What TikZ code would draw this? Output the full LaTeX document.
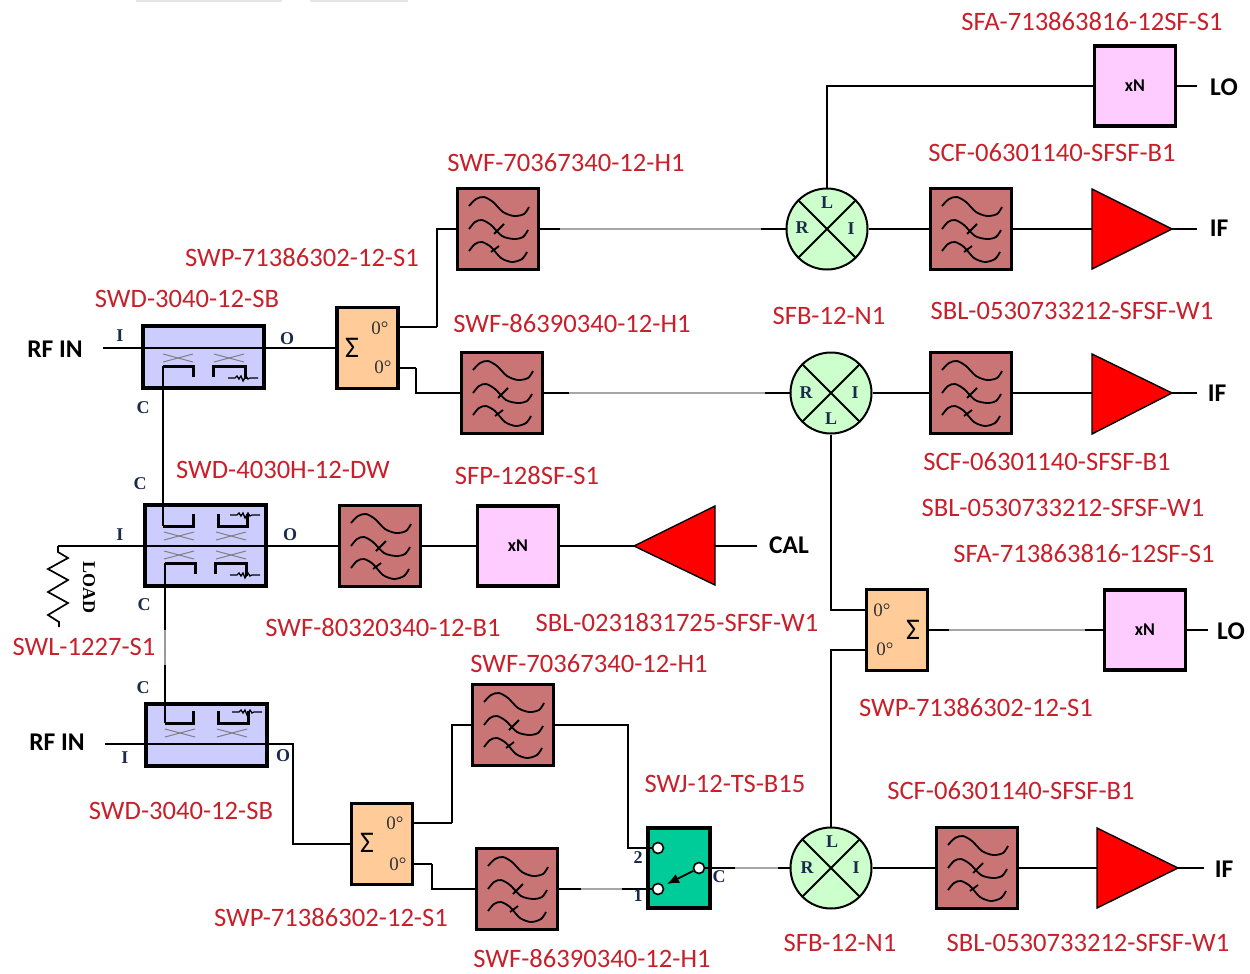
\documentclass[tikz,border=0pt]{standalone}
\usepackage{fontspec}
\setmainfont{Carlito}
\newfontfamily\serifb{Liberation Serif}[Scale=1]
\usetikzlibrary{arrows.meta}
\definecolor{lblred}{HTML}{C8202A}
\definecolor{filtc}{HTML}{C97575}
\definecolor{coupc}{HTML}{CCCCFF}
\definecolor{sigc}{HTML}{FFCC99}
\definecolor{mixc}{HTML}{CCFFCC}
\definecolor{multc}{HTML}{FFCCFF}
\definecolor{swc}{HTML}{00CC99}
\definecolor{portc}{HTML}{1A2A4A}
\tikzset{
  x=1pt,y=-1pt,
  lbl/.style={text=lblred,font=\fontsize{26.6}{26.6}\selectfont,inner sep=0pt},
  blk/.style={text=black,font=\fontsize{25.5}{25.5}\selectfont\bfseries,inner sep=0pt},
  port/.style={text=portc,font=\serifb\fontsize{18}{18}\selectfont\bfseries,inner sep=0pt},
  deg/.style={text=black!80,font=\serifb\fontsize{19}{19}\selectfont,inner sep=0pt},
  box/.style={draw=black,line width=3.2pt,inner sep=0pt,minimum width=#1},
  filtbox/.style={box=81pt,minimum height=81pt,fill=filtc},
  multbox/.style={box=81pt,minimum height=80pt,fill=multc,font=\fontsize{18}{18}\selectfont\bfseries},
  sigbox/.style={box=61pt,minimum height=81pt,fill=sigc},
  coupbox/.style={box=121pt,fill=coupc},
  mixbox/.style={circle,draw=black,line width=2pt,fill=mixc,minimum size=81pt,inner sep=0pt},
  ampbox/.style={draw=black,line width=1.4pt,fill=red},
  wire/.style={draw=black,line width=2.9pt},
  thin wire/.style={draw=black,line width=1.5pt},
  faded/.style={draw=black!35,line width=2pt},
  inner/.style={draw=black,line width=3pt},
  crossm/.style={draw=black!50,line width=1pt},
  curve/.style={draw=black,line width=1.8pt},
  jack/.style={circle,draw=black,line width=1.6pt,fill=white,minimum size=11pt,inner sep=0pt}
}
\newcommand{\filticon}[2]{%
  \begin{scope}[shift={(#1,#2)}]
    \draw[curve] plot[smooth] coordinates {(-29,-23) (-22,-30) (-14,-32) (-5,-27) (5,-17) (16,-13) (26,-15) (31,-22)};
    \draw[curve] plot[smooth] coordinates {(-29,0) (-23,-7) (-16,-9) (-7,-4) (4,7) (16,10) (25,8) (30,1)};
    \draw[curve] plot[smooth] coordinates {(-29,22) (-23,15) (-16,13) (-7,18) (3,29) (14,33) (24,30) (29,23)};
    \draw[curve] (-4,5) -- (6,-5);
    \draw[curve] (-7,23) -- (1,17);
  \end{scope}}
\newcommand{\xcross}[2]{%
  \draw[crossm] (#1-15,#2-4) -- (#1+15,#2+4);
  \draw[crossm] (#1-15,#2+4) -- (#1+15,#2-4);}
\newcommand{\resist}[2]{%
  \draw[draw=black,line width=1.3pt] (#1,#2) -- (#1+7,#2) -- (#1+9,#2-2) -- (#1+11,#2+1) -- (#1+13,#2-2) -- (#1+15,#2+3) -- (#1+18,#2-2) -- (#1+20,#2+1) -- (#1+22,#2) -- (#1+30,#2);}
\newcommand{\mixlines}[1]{%
  \draw[line width=1.8pt] (#1.45) -- (#1.225);
  \draw[line width=1.8pt] (#1.135) -- (#1.315);}
\begin{document}
\begin{tikzpicture}
\useasboundingbox (0,0) rectangle (1250,974);
\fill[black!10] (136,0) rectangle (282,2);
\fill[black!10] (310,0) rectangle (408,2);

% ---- free ends
\coordinate (rf1) at (103,348);
\coordinate (rf2) at (105,744);
\coordinate (lo1) at (1197,86);
\coordinate (if1) at (1197,229);
\coordinate (if2) at (1197,393);
\coordinate (cal) at (757,546);
\coordinate (lo2) at (1208,630);
\coordinate (if3) at (1204,868);
\coordinate (loadtop) at (58,546);

% ---- blocks
\node[coupbox,minimum height=62pt,fill=coupc] (c1) at (203.5,357) {};
\node[coupbox,minimum height=81pt] (c2) at (205.5,545.5) {};
\node[coupbox,minimum height=62pt] (c3) at (206.5,735) {};
\node[sigbox] (s1) at (367.5,348) {};
\node[sigbox] (s2) at (897,630) {};
\node[sigbox] (s3) at (382,844) {};
\foreach \n/\x/\y in {f1/498/229,f2/502/393,f3/971/229,f4/971/393,f5/380/546,f6/513/725,f7/517/889,f8/977/868}{
  \node[filtbox] (\n) at (\x,\y) {};
  \filticon{\x}{\y}
}
\node[multbox] (m1) at (1135,86) {xN};
\node[multbox] (m2) at (518,546) {xN};
\node[multbox] (m3) at (1145,630) {xN};
\node[mixbox] (x1) at (827,229) {};
\node[mixbox] (x2) at (831,393) {};
\node[mixbox] (x3) at (831,868) {};
\mixlines{x1}\mixlines{x2}\mixlines{x3}
\node[box=62pt,minimum height=80pt,fill=swc] (sw) at (679,868) {};
\path[ampbox] (1092,189) -- (1172,229) coordinate (a1e) -- (1092,269) -- cycle;
\coordinate (a1m) at (1092,229);
\path[ampbox] (1092,354) -- (1172,393) coordinate (a2e) -- (1092,434) -- cycle;
\coordinate (a2m) at (1092,393);
\path[ampbox] (1097,828) -- (1178,868) coordinate (a3e) -- (1097,908) -- cycle;
\coordinate (a3m) at (1097,868);
\path[ampbox] (715,506) -- (634,546) coordinate (a4w) -- (715,585) -- cycle;
\coordinate (a4m) at (715,546);

% ---- named ports
\coordinate (s1a) at (398,327); \coordinate (s1b) at (398,368);
\coordinate (s2a) at (867,610); \coordinate (s2b) at (867,650);
\coordinate (s3a) at (412,823); \coordinate (s3b) at (412,864);
\coordinate (c1w) at (143,348); \coordinate (c1e) at (264,348);
\coordinate (c2w) at (145,546); \coordinate (c2e) at (266,546);
\coordinate (c3w) at (146,744); \coordinate (c3e) at (267,744);
\node[jack] (j2) at (658,848) {};
\node[jack] (j1) at (658,889) {};
\node[jack] (jc) at (699,868) {};

% ---- through lines
\draw[thin wire] (c1e) -- (s1.west);
\draw[wire] (rf1) -- (c1w) -- (c1e) -- (290,348);
\draw[wire] (315,348) -- (s1.west);
\draw[thin wire] (c2e) -- (f5.west);
\draw[wire] (c2w) -- (c2e) -- (292,546);
\draw[wire] (320,546) -- (f5.west);
\draw[thin wire] (loadtop) -- (102,546);
\draw[wire] (102,546) -- (c2w);
\draw[wire] (rf2) -- (c3w) -- (c3e);
\draw[thin wire] (c3e) -- (293,744) -- (293,844) -- (s3.west);
\draw[wire] (330,844) -- (s3.west);
% ---- top branch
\draw[wire] (s1a) -- (437,327);
\draw[thin wire] (437,327) -- (437,229) -- (f1.west);
\draw[wire] (s1b) -- (416,368);
\draw[thin wire] (416,368) -- (416,393) -- (f2.west);
\draw[wire] (440,393) -- (f2.west);
\draw[wire] (f1.east) -- (x1.west);
\draw[faded,shorten <=20pt,shorten >=25pt] (f1.east) -- (x1.west);
\draw[wire] (f2.east) -- (x2.west);
\draw[faded,shorten <=25pt,shorten >=25pt] (f2.east) -- (x2.west);
\draw[wire] (x1.east) -- (f3.west);
\draw[wire] (x2.east) -- (f4.west);
\draw[wire] (f3.east) -- (a1m);
\draw[wire] (f4.east) -- (a2m);
\draw[wire] (a1e) -- (if1);
\draw[wire] (a2e) -- (if2);
\draw[wire] (x1.north) -- (827,170);
\draw[thin wire] (827,170) -- (827,86) -- (1075,86);
\draw[wire] (1075,86) -- (m1.west);
\draw[wire] (m1.east) -- (lo1);
% ---- middle
\draw[wire] (f5.east) -- (m2.west);
\draw[wire] (m2.east) -- (a4w);
\draw[wire] (a4m) -- (cal);
\draw[wire] (x2.south) -- (831,470);
\draw[thin wire] (831,470) -- (831,610) -- (s2a);
\draw[wire] (845,610) -- (s2a);
\draw[wire] (s2b) -- (845,650);
\draw[thin wire] (845,650) -- (831,650) -- (831,800);
\draw[wire] (831,800) -- (x3.north);
\draw[wire] (s2.east) -- (m3.west);
\draw[faded,shorten <=20pt,shorten >=18pt] (s2.east) -- (m3.west);
\draw[wire] (m3.east) -- (lo2);
% ---- bottom
\draw[wire] (s3a) -- (452,823);
\draw[thin wire] (452,823) -- (452,725) -- (f6.west);
\draw[wire] (s3b) -- (432,864);
\draw[thin wire] (432,864) -- (432,889) -- (f7.west);
\draw[wire] (455,889) -- (f7.west);
\draw[thin wire] (f6.east) -- (628,725) -- (628,848) -- (j2.west);
\draw[wire] (f7.east) -- (j1.west);
\draw[faded,shorten <=22pt,shorten >=30pt] (f7.east) -- (j1.west);
\draw[wire] (jc.east) -- (x3.west);
\draw[faded,shorten <=30pt,shorten >=12pt] (jc.east) -- (x3.west);
\draw[wire] (x3.east) -- (f8.west);
\draw[wire] (f8.east) -- (a3m);
\draw[wire] (a3e) -- (if3);
% ---- coupled ports
\draw[wire] (163,366) -- (163,430);
\draw[thin wire] (163,430) -- (163,470);
\draw[wire] (163,470) -- (163,526);
\draw[wire] (165,563) -- (165,630);
\draw[draw=black!40,line width=2pt] (165,630) -- (165,665);
\draw[wire] (165,665) -- (165,723);
% ---- switch arm
\draw[line width=1.8pt,-{Latex[length=12pt,width=10pt]}] (jc) -- (667,884);
% ---- load
\draw[line width=1.7pt] (loadtop) -- (58,552) -- (68,558) -- (48,569) -- (68,580) -- (48,592) -- (68,603) -- (48,615) -- (59,622) -- (59,627);
% ---- coupler innards
\xcross{178}{358}\xcross{229}{358}
\draw[inner] (163,366) -- (193,366) -- (193,377);
\draw[inner] (213,377) -- (213,366) -- (245,366) -- (245,379);
\resist{228}{378}
\xcross{179}{536}\xcross{231}{536}\xcross{179}{555}\xcross{231}{555}
\draw[inner] (163,526) -- (193,526) -- (193,514);
\draw[inner] (218,514) -- (218,526) -- (247,526) -- (247,514);
\resist{230}{515}
\draw[inner] (165,563) -- (195,563) -- (195,574);
\draw[inner] (215,574) -- (215,563) -- (246,563) -- (246,576);
\resist{230}{575}
\xcross{180}{733}\xcross{232}{733}
\draw[inner] (165,723) -- (193,723) -- (193,711);
\draw[inner] (218,711) -- (218,723) -- (248,723) -- (248,711);
\resist{232}{712}

% ---- red labels
\foreach \t/\x/\y [count=\i] in {
 SFA-713863816-12SF-S1/1092/22, SCF-06301140-SFSF-B1/1052/153, SWF-70367340-12-H1/566/163,
 SWP-71386302-12-S1/302/258, SWD-3040-12-SB/187/299, SWF-86390340-12-H1/572/324,
 SFB-12-N1/829/316, SBL-0530733212-SFSF-W1/1072/311, SWD-4030H-12-DW/283/470,
 SFP-128SF-S1/527/476, SCF-06301140-SFSF-B1/1047/462, SBL-0530733212-SFSF-W1/1063/508,
 SFA-713863816-12SF-S1/1084/554, SBL-0231831725-SFSF-W1/677/623, SWF-80320340-12-B1/383/628,
 SWL-1227-S1/84/647, SWF-70367340-12-H1/589/664, SWP-71386302-12-S1/976/708,
 SWJ-12-TS-B15/725/784, SCF-06301140-SFSF-B1/1011/791, SWD-3040-12-SB/181/811,
 SWP-71386302-12-S1/331/918, SFB-12-N1/840/943, SBL-0530733212-SFSF-W1/1088/943,
 SWF-86390340-12-H1/592/959}{
  \node[lbl] (r\i) at (\x,\y) {\t};
}
% ---- black labels
\foreach \t/\x/\y [count=\i] in {RF IN/55/349, RF IN/57/742, LO/1224/87, IF/1219/228, IF/1217/393, CAL/789/545, LO/1231/631, IF/1224/869}{
  \node[blk] (b\i) at (\x,\y) {\t};
}
% ---- port letters
\foreach \t/\x/\y [count=\i] in {I/120/336, O/287/339, C/143/408, C/140/484, I/120/535, O/290/535, C/144/605, C/143/688, I/125/758, O/283/756,
  L/827/203, R/802/228, I/851/229, R/806/393, I/855/393, L/831/419, L/832/842, R/807/868, I/856/868, 2/638/858, 1/638/896, C/719/877}{
  \node[port] (p\i) at (\x,\y) {\t};
}
\foreach \x/\y [count=\i] in {380/328, 383/367, 882/610, 885/649, 395/823, 398/864}{
  \node[deg] (z\i) at (\x,\y) {0°};
}
\foreach \x/\y [count=\i] in {352/348, 913/630, 367/843}{
  \node[inner sep=0pt,font=\fontsize{30}{30}\selectfont] (g\i) at (\x,\y) {Σ};
}
\node[port,rotate=-90,text=black,font=\serifb\fontsize{18}{18}\selectfont\bfseries] (loadtxt) at (89,587) {LOAD};
\end{tikzpicture}
\end{document}
